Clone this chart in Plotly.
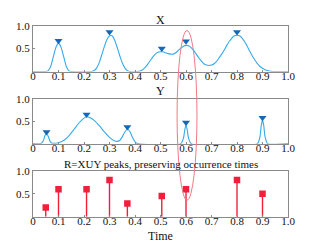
import plotly.graph_objects as go

# ---- data ----
x_t = [0.00, 0.05, 0.06, 0.07, 0.08, 0.09, 0.10, 0.11, 0.12, 0.13, 0.14, 0.15,
       0.23, 0.24, 0.25, 0.26, 0.27, 0.28, 0.29, 0.30, 0.31, 0.32, 0.33, 0.34,
       0.35, 0.36, 0.37, 0.38, 0.41, 0.42, 0.43, 0.44, 0.45, 0.46, 0.47, 0.48,
       0.49, 0.50, 0.51, 0.52, 0.53, 0.54, 0.55, 0.56, 0.57, 0.58, 0.59, 0.60,
       0.61, 0.62, 0.63, 0.64, 0.65, 0.66, 0.67, 0.68, 0.69, 0.70, 0.71, 0.72,
       0.73, 0.74, 0.75, 0.76, 0.77, 0.78, 0.79, 0.80, 0.81, 0.82, 0.83, 0.84,
       0.85, 0.86, 0.87, 0.88, 0.89, 0.90, 0.91, 0.92, 0.93, 0.94, 1.00]
x_v = [0.00, 0.00, 0.02, 0.12, 0.33, 0.53, 0.62, 0.53, 0.33, 0.12, 0.02, 0.00,
       0.00, 0.02, 0.08, 0.20, 0.37, 0.55, 0.70, 0.78, 0.78, 0.69, 0.53, 0.35,
       0.19, 0.08, 0.02, 0.00, 0.00, 0.01, 0.04, 0.09, 0.16, 0.24, 0.32, 0.38,
       0.42, 0.43, 0.43, 0.41, 0.39, 0.38, 0.38, 0.41, 0.46, 0.51, 0.55, 0.57,
       0.56, 0.52, 0.46, 0.38, 0.30, 0.23, 0.17, 0.14, 0.13, 0.14, 0.17, 0.22,
       0.30, 0.38, 0.47, 0.57, 0.66, 0.73, 0.78, 0.79, 0.78, 0.73, 0.65, 0.55,
       0.44, 0.34, 0.25, 0.17, 0.11, 0.07, 0.04, 0.02, 0.01, 0.00, 0.00]
x_peak_t = [0.10, 0.30, 0.505, 0.60, 0.80]
x_peak_v = [0.67, 0.86, 0.50, 0.66, 0.86]

y_t = [0.00, 0.03, 0.04, 0.047, 0.053, 0.06, 0.067, 0.075, 0.09, 0.10, 0.12,
       0.14, 0.16, 0.18, 0.20, 0.21, 0.22, 0.24, 0.26, 0.28, 0.30, 0.32, 0.33,
       0.34, 0.35, 0.36, 0.37, 0.38, 0.39, 0.40, 0.41, 0.58, 0.59, 0.595, 0.60,
       0.605, 0.61, 0.62, 0.88, 0.89, 0.895, 0.90, 0.905, 0.91, 0.92, 1.00]
y_v = [0.00, 0.00, 0.06, 0.18, 0.22, 0.16, 0.05, 0.01, 0.01, 0.02, 0.07,
       0.17, 0.31, 0.46, 0.57, 0.60, 0.59, 0.52, 0.40, 0.26, 0.14, 0.06, 0.05,
       0.07, 0.15, 0.26, 0.32, 0.27, 0.14, 0.04, 0.00, 0.00, 0.12, 0.30, 0.42,
       0.30, 0.12, 0.00, 0.00, 0.15, 0.40, 0.53, 0.40, 0.15, 0.00, 0.00]
y_peak_t = [0.053, 0.21, 0.37, 0.60, 0.90]
y_peak_v = [0.26, 0.65, 0.37, 0.47, 0.58]

r_t = [0.05, 0.10, 0.21, 0.30, 0.37, 0.505, 0.60, 0.80, 0.90]
r_v = [0.20, 0.60, 0.60, 0.80, 0.29, 0.45, 0.60, 0.80, 0.50]

x_tickvals = [0, 0.1, 0.2, 0.3, 0.4, 0.5, 0.6, 0.7, 0.8, 0.9, 1.0]
x_ticktext = ["0", "0.1", "0.2", "0.3", "0.4", "0.5", "0.6", "0.7", "0.8", "0.9", "1.0"]
y_tickvals = [0.5, 1.0]
y_ticktext = ["0.5", "1.0"]

titles = ["X", "Y", "R=XUY peaks, preserving occurrence times"]
x_label = "Time"

# ---- style ----
OFF = 8                      # page body margin of the browser
W, H = 320 - OFF, 245 - OFF
ML = 33 - OFF
MR = W - (288 - OFF)
FONT = "Liberation Serif, Times New Roman, serif"
CURVE = "#36a9ec"
TRI = "#1667b5"
RED = "#f0203c"
GRID = "#8a8a8a"

fig = go.Figure()

# panel pixel extents in screen coordinates (top, bottom)
panels = [(20, 67), (95, 141), (169, 216)]
title_y = [14, 87, 162]


def py(p):
    return 1 - (p - OFF) / H


fig.add_trace(go.Scatter(x=x_t, y=x_v, mode="lines", line=dict(color=CURVE, width=1.1, shape="spline", smoothing=0.6),
                         xaxis="x", yaxis="y", showlegend=False, hoverinfo="skip"))
fig.add_trace(go.Scatter(x=x_peak_t, y=x_peak_v, mode="markers",
                         marker=dict(symbol="triangle-down", size=7, color=TRI),
                         xaxis="x", yaxis="y", showlegend=False))
fig.add_trace(go.Scatter(x=y_t, y=y_v, mode="lines", line=dict(color=CURVE, width=1.1, shape="spline", smoothing=0.6),
                         xaxis="x2", yaxis="y2", showlegend=False, hoverinfo="skip"))
fig.add_trace(go.Scatter(x=y_peak_t, y=y_peak_v, mode="markers",
                         marker=dict(symbol="triangle-down", size=7, color=TRI),
                         xaxis="x2", yaxis="y2", showlegend=False))
fig.add_trace(go.Scatter(x=r_t, y=r_v, mode="markers",
                         marker=dict(symbol="square", size=6.5, color=RED),
                         error_y=dict(type="data", symmetric=False, array=[0] * len(r_v),
                                      arrayminus=r_v, color=RED, thickness=1.4, width=0),
                         xaxis="x3", yaxis="y3", showlegend=False))

axis_common = dict(range=[0, 1], showline=True, linecolor=GRID, linewidth=1, mirror=True,
                   showgrid=False, zeroline=False, ticks="inside", ticklen=2, tickcolor=GRID,
                   tickfont=dict(family=FONT, size=11, color="#111"))

layout = dict(width=W, height=H, margin=dict(l=ML, r=MR, t=0, b=0),
              paper_bgcolor="white", plot_bgcolor="white", font=dict(family=FONT))
for i, (top, bot) in enumerate(panels):
    sx = "" if i == 0 else str(i + 1)
    layout["xaxis" + sx] = dict(axis_common, domain=[0, 1], anchor="y" + sx,
                                tickvals=x_tickvals, ticktext=x_ticktext, ticklabelstandoff=-6)
    layout["yaxis" + sx] = dict(axis_common, domain=[py(bot), py(top)], anchor="x" + sx,
                                tickvals=y_tickvals, ticktext=y_ticktext)
fig.update_layout(**layout)

ann = []
for i, t in enumerate(titles):
    ann.append(dict(text=t, x=0.5, y=py(title_y[i]), xref="paper", yref="paper",
                    showarrow=False, xanchor="center", yanchor="middle",
                    font=dict(family=FONT, size=12 if i < 2 else 11, color="#111")))
ann.append(dict(text=x_label, x=0.5, y=py(236), xref="paper", yref="paper",
                showarrow=False, xanchor="center", yanchor="middle",
                font=dict(family=FONT, size=12, color="#111")))
fig.update_layout(annotations=ann)

# highlight ellipse around the t=0.6 peaks
fig.add_shape(type="circle", xref="x", yref="paper", x0=0.565, x1=0.643,
              y0=py(199), y1=py(25), line=dict(color="#f27a86", width=1), layer="above")

fig.write_html("out.html")
